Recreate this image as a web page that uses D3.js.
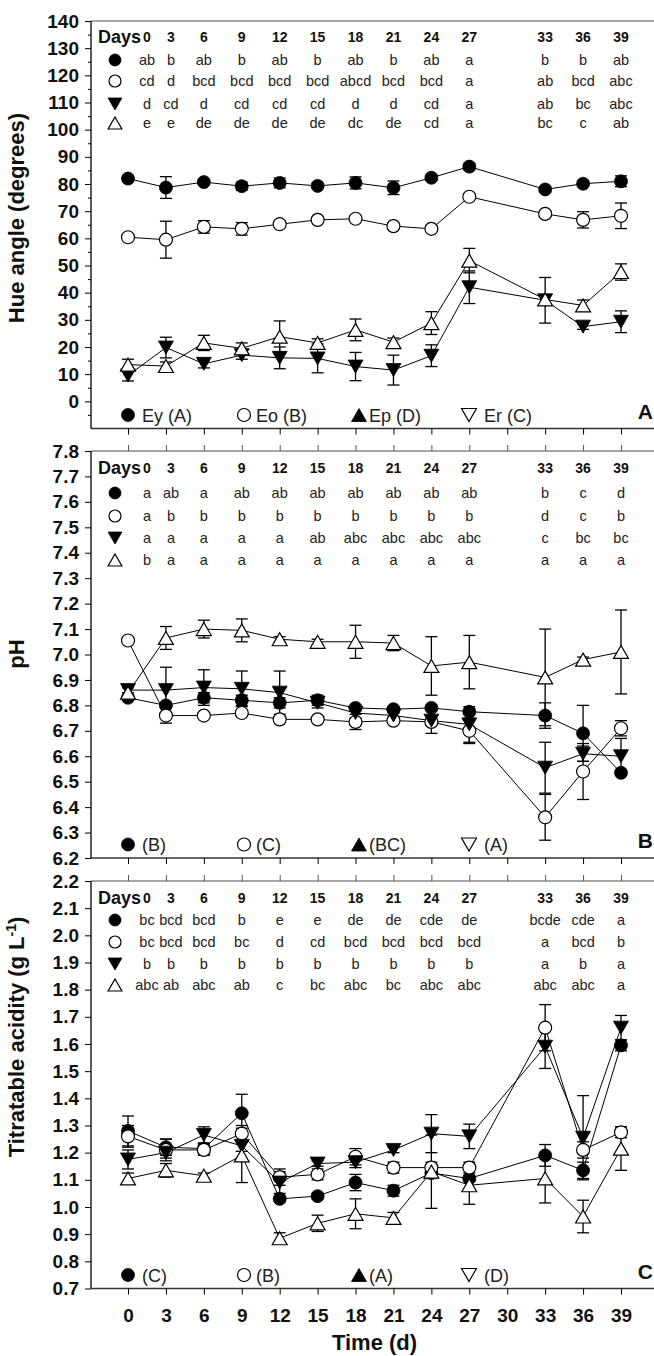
<!DOCTYPE html>
<html>
<head>
<meta charset="utf-8">
<script src="https://cdn.jsdelivr.net/npm/d3@7"></script>
<style>
  body { margin: 0; background: #fff; }
  svg { display: block; font-family: "Liberation Sans", Arial, sans-serif; }
</style>
</head>
<body>
<svg id="chart" width="654" height="1356"></svg>
<script>
// sampling days and x ticks
const days = [0, 3, 6, 9, 12, 15, 18, 21, 24, 27, 33, 36, 39];
const xTicks = [0, 3, 6, 9, 12, 15, 18, 21, 24, 27, 30, 33, 36, 39];

// Panel A - hue angle
const hueEy = [82.0, 78.7, 80.7, 79.2, 80.4, 79.3, 80.4, 78.6, 82.3, 86.4, 78.0, 80.1, 81.0];
const hueEyErr = [1.0, 4.0, 1.0, 1.5, 1.8, 1.0, 2.2, 2.5, 1.0, 1.2, 1.0, 1.0, 2.0];
const hueEo = [60.4, 59.5, 64.2, 63.5, 65.2, 66.8, 67.2, 64.5, 63.5, 75.3, 69.0, 66.8, 68.3];
const hueEoErr = [1.0, 6.8, 2.3, 2.3, 1.2, 1.0, 1.0, 1.0, 1.0, 1.0, 1.0, 3.0, 4.7];
const hueEp = [9.5, 19.8, 13.8, 17.0, 16.0, 15.8, 12.8, 11.5, 16.8, 42.0, 37.2, 27.5, 29.3];
const hueEpErr = [2.0, 3.8, 1.5, 1.5, 4.0, 5.3, 5.2, 5.5, 4.0, 6.0, 8.4, 1.0, 4.0];
const hueEr = [13.5, 13.0, 21.5, 19.5, 23.8, 21.5, 26.3, 21.8, 28.8, 51.8, 37.5, 35.3, 47.6];
const hueErErr = [2.0, 1.5, 2.8, 2.0, 5.8, 1.5, 4.0, 1.5, 4.2, 4.5, 1.5, 2.0, 3.0];
const hueLegend = ["Ey (A)", "Eo (B)", "Ep (D)", "Er (C)"];
const hueLetters = [
  ["ab", "b", "ab", "b", "ab", "b", "ab", "b", "ab", "a", "b", "b", "ab"],
  ["cd", "d", "bcd", "bcd", "bcd", "bcd", "abcd", "bcd", "bcd", "a", "ab", "bcd", "abc"],
  ["d", "cd", "d", "cd", "cd", "cd", "d", "d", "cd", "a", "ab", "bc", "abc"],
  ["e", "e", "de", "de", "de", "de", "dc", "de", "cd", "a", "bc", "c", "ab"]
];

// Panel B - pH
const phB = [6.83, 6.80, 6.83, 6.82, 6.81, 6.82, 6.79, 6.785, 6.79, 6.775, 6.76, 6.69, 6.535];
const phBErr = [0.01, 0.01, 0.02, 0.02, 0.02, 0.02, 0.01, 0.01, 0.01, 0.01, 0.05, 0.11, 0.01];
const phC = [7.055, 6.76, 6.76, 6.77, 6.745, 6.745, 6.735, 6.74, 6.735, 6.70, 6.36, 6.54, 6.71];
const phCErr = [0.01, 0.03, 0.01, 0.01, 0.01, 0.01, 0.03, 0.01, 0.01, 0.05, 0.09, 0.11, 0.03];
const phBC = [6.86, 6.86, 6.87, 6.865, 6.85, 6.81, 6.77, 6.76, 6.74, 6.725, 6.555, 6.61, 6.60];
const phBCErr = [0.01, 0.09, 0.07, 0.07, 0.085, 0.02, 0.02, 0.01, 0.05, 0.07, 0.10, 0.03, 0.07];
const phA = [6.85, 7.065, 7.10, 7.095, 7.06, 7.05, 7.05, 7.045, 6.955, 6.97, 6.91, 6.98, 7.01];
const phAErr = [0.02, 0.045, 0.035, 0.045, 0.01, 0.01, 0.065, 0.03, 0.115, 0.105, 0.19, 0.01, 0.165];
const phLegend = ["(B)", "(C)", "(BC)", "(A)"];
const phLetters = [
  ["a", "ab", "a", "ab", "ab", "ab", "ab", "ab", "ab", "ab", "b", "c", "d"],
  ["a", "b", "b", "b", "b", "b", "b", "b", "b", "b", "d", "c", "b"],
  ["a", "a", "a", "a", "a", "ab", "abc", "abc", "abc", "abc", "c", "bc", "bc"],
  ["b", "a", "a", "a", "a", "a", "a", "a", "a", "a", "a", "a", "a"]
];

// Panel C - titratable acidity
const taC = [1.28, 1.22, 1.215, 1.345, 1.03, 1.04, 1.09, 1.06, 1.125, 1.105, 1.19, 1.135, 1.595];
const taCErr = [0.055, 0.03, 0.02, 0.07, 0.01, 0.01, 0.03, 0.02, 0.02, 0.01, 0.04, 0.03, 0.02];
const taB = [1.26, 1.21, 1.21, 1.27, 1.11, 1.12, 1.185, 1.145, 1.145, 1.145, 1.66, 1.21, 1.275];
const taBErr = [0.04, 0.04, 0.02, 0.03, 0.03, 0.02, 0.03, 0.02, 0.02, 0.02, 0.085, 0.03, 0.02];
const taA = [1.175, 1.20, 1.265, 1.225, 1.09, 1.16, 1.165, 1.21, 1.27, 1.26, 1.59, 1.255, 1.66];
const taAErr = [0.035, 0.02, 0.03, 0.02, 0.04, 0.01, 0.02, 0.01, 0.07, 0.045, 0.08, 0.155, 0.045];
const taD = [1.105, 1.135, 1.115, 1.19, 0.885, 0.94, 0.975, 0.96, 1.13, 1.08, 1.105, 0.965, 1.215];
const taDErr = [0.02, 0.025, 0.01, 0.1, 0.02, 0.03, 0.055, 0.02, 0.135, 0.07, 0.09, 0.06, 0.08];
const taLegend = ["(C)", "(B)", "(A)", "(D)"];
const taLetters = [
  ["bc", "bcd", "bcd", "b", "e", "e", "de", "de", "cde", "de", "bcde", "cde", "a"],
  ["bc", "bcd", "bcd", "bc", "d", "cd", "bcd", "bcd", "bcd", "bcd", "a", "bcd", "b"],
  ["b", "b", "b", "b", "b", "b", "b", "b", "b", "b", "a", "b", "a"],
  ["abc", "ab", "abc", "ab", "c", "bc", "abc", "bc", "abc", "abc", "abc", "abc", "a"]
];

const svg = d3.select("#chart");
svg.append("rect").attr("width", 654).attr("height", 1356).attr("fill", "#fff");

const x = d3.scaleLinear().domain([0, 39]).range([128, 621]);
const left = 91, right = 654;

// shapes used in plot, table and legend
const plotShapes = ["fcircle", "ocircle", "fdown", "oup"];
const legendShapes = ["fcircle", "ocircle", "fup", "odown"];

function drawMarker(g, shape, cx, cy, r) {
  const filled = shape[0] === "f";
  let el;
  if (shape.endsWith("circle")) {
    el = g.append("circle").attr("cx", cx).attr("cy", cy).attr("r", r);
  } else {
    const w = r * 2.3, h = r * 2;
    const s = shape.endsWith("down") ? -1 : 1;
    el = g.append("path")
      .attr("transform", `translate(${cx},${cy})`)
      .attr("d", `M0,${-s * h / 2}L${w / 2},${s * h / 2}L${-w / 2},${s * h / 2}Z`);
  }
  el.attr("fill", filled ? "#000" : "#fff")
    .attr("stroke", "#000")
    .attr("stroke-width", filled ? 0.8 : 1.2);
}

const panels = [
  {
    letter: "A", top: 21, bottom: 428.5, domain: [-10, 140],
    major: d3.range(0, 141, 10), minor: d3.range(-5, 140, 10), fmt: d3.format("d"),
    title: "Hue angle (degrees)", titleY: 218,
    series: [[hueEy, hueEyErr], [hueEo, hueEoErr], [hueEp, hueEpErr], [hueEr, hueErErr]],
    letters: hueLetters, legend: hueLegend, rows: [16, 39, 60, 83, 102], topTicks: false, xLabels: false
  },
  {
    letter: "B", top: 451, bottom: 858, domain: [6.2, 7.8],
    major: d3.range(62, 79, 1).map(v => v / 10), minor: [], fmt: d3.format(".1f"),
    title: "pH", titleY: 654,
    series: [[phB, phBErr], [phC, phCErr], [phBC, phBCErr], [phA, phAErr]],
    letters: phLetters, legend: phLegend, rows: [17, 42, 65, 87, 109], topTicks: true, xLabels: false
  },
  {
    letter: "C", top: 881, bottom: 1288.5, domain: [0.7, 2.2],
    major: d3.range(7, 23, 1).map(v => v / 10), minor: [], fmt: d3.format(".1f"),
    title: "Titratable acidity (g L", titleY: 1037,
    series: [[taC, taCErr], [taB, taBErr], [taA, taAErr], [taD, taDErr]],
    letters: taLetters, legend: taLegend, rows: [17, 39, 61, 83, 104], topTicks: true, xLabels: true
  }
];

panels.forEach(p => {
  const y = d3.scaleLinear().domain(p.domain).range([p.bottom, p.top]);
  const g = svg.append("g");

  // frame: grey top line, dark left and bottom axes
  g.append("line").attr("x1", left).attr("x2", right).attr("y1", p.top).attr("y2", p.top)
    .attr("stroke", "#888").attr("stroke-width", 1.5);
  g.append("line").attr("x1", left).attr("x2", right).attr("y1", p.bottom).attr("y2", p.bottom)
    .attr("stroke", "#333").attr("stroke-width", 1.5);
  g.append("line").attr("x1", left).attr("x2", left).attr("y1", p.top).attr("y2", p.bottom)
    .attr("stroke", "#222").attr("stroke-width", 1.5);

  // y axis
  const yAxis = g.append("g").attr("transform", `translate(${left},0)`)
    .call(d3.axisLeft(y).tickValues(p.major).tickFormat(p.fmt).tickSize(6).tickPadding(6).tickSizeOuter(0));
  yAxis.select(".domain").remove();
  yAxis.selectAll("text").attr("font-size", 19).attr("font-weight", "bold").attr("fill", "#111")
    .attr("font-family", "Liberation Sans, Arial, sans-serif");
  if (p.minor.length) {
    const m = g.append("g").attr("transform", `translate(${left},0)`)
      .call(d3.axisLeft(y).tickValues(p.minor).tickFormat("").tickSize(3).tickSizeOuter(0));
    m.select(".domain").remove();
  }

  // x ticks (bottom, and top for B and C)
  const xAxis = g.append("g").attr("transform", `translate(0,${p.bottom})`)
    .call(d3.axisBottom(x).tickValues(xTicks).tickSize(6).tickPadding(14).tickSizeOuter(0)
      .tickFormat(p.xLabels ? d3.format("d") : ""));
  xAxis.select(".domain").remove();
  xAxis.selectAll("text").attr("font-size", 19).attr("font-weight", "bold").attr("fill", "#111")
    .attr("font-family", "Liberation Sans, Arial, sans-serif");
  if (p.topTicks) {
    const t = g.append("g").attr("transform", `translate(0,${p.top})`)
      .call(d3.axisTop(x).tickValues(xTicks).tickSize(6).tickFormat("").tickSizeOuter(0));
    t.select(".domain").remove();
    t.selectAll("line").attr("stroke", "#555");
  }

  // y title
  const title = g.append("text")
    .attr("transform", `translate(24,${p.titleY}) rotate(-90)`)
    .attr("text-anchor", "middle").attr("font-size", 22).attr("font-weight", "bold").attr("fill", "#111");
  if (p.letter === "C") {
    title.append("tspan").text(p.title);
    title.append("tspan").attr("dy", -8).attr("font-size", 14).text("-1");
    title.append("tspan").attr("dy", 8).text(")");
  } else {
    title.text(p.title);
  }

  // connecting lines
  const line = d3.line().x((d, i) => x(days[i])).y(d => y(d));
  p.series.forEach(([vals]) => {
    g.append("path").datum(vals).attr("d", line)
      .attr("fill", "none").attr("stroke", "#000").attr("stroke-width", 1);
  });

  // error bars
  p.series.forEach(([vals, errs]) => {
    vals.forEach((v, i) => {
      const cx = x(days[i]), y1 = y(v + errs[i]), y2 = y(v - errs[i]);
      g.append("line").attr("x1", cx).attr("x2", cx).attr("y1", y1).attr("y2", y2)
        .attr("stroke", "#000").attr("stroke-width", 1.3);
      [y1, y2].forEach(yy => g.append("line").attr("x1", cx - 6).attr("x2", cx + 6)
        .attr("y1", yy).attr("y2", yy).attr("stroke", "#000").attr("stroke-width", 1.3));
    });
  });

  // markers
  p.series.forEach(([vals], si) => {
    vals.forEach((v, i) => drawMarker(g, plotShapes[si], x(days[i]), y(v), 6.5));
  });

  // letters table (first two columns sit right of their days to clear "Days")
  const colX = i => (i === 0 ? 147 : i === 1 ? 171 : x(days[i]));
  const t0 = p.top;
  g.append("text").attr("x", 98).attr("y", t0 + p.rows[0] + 6)
    .attr("font-size", 18).attr("font-weight", "bold").attr("fill", "#111").text("Days");
  days.forEach((d, i) => {
    g.append("text").attr("x", colX(i)).attr("y", t0 + p.rows[0] + 5)
      .attr("text-anchor", "middle").attr("font-size", 14).attr("font-weight", "bold")
      .attr("fill", "#111").text(d);
  });
  p.letters.forEach((row, ri) => {
    const cy = t0 + p.rows[ri + 1];
    drawMarker(g, plotShapes[ri], 115, cy, 6);
    row.forEach((s, i) => {
      g.append("text").attr("x", colX(i)).attr("y", cy + 5)
        .attr("text-anchor", "middle").attr("font-size", 14.5).attr("fill", "#222").text(s);
    });
  });

  // legend along the bottom
  const ly = p.bottom - 13.5;
  const legX = [128, 244, 359, 469];
  const legTextX = [142, 256, 369, 484];
  p.legend.forEach((lab, i) => {
    drawMarker(g, legendShapes[i], legX[i], ly, 6.5);
    g.append("text").attr("x", legTextX[i]).attr("y", ly + 6.5)
      .attr("font-size", 18).attr("fill", "#222").text(lab);
  });

  // panel letter
  g.append("text").attr("x", 653).attr("y", p.bottom - 10)
    .attr("text-anchor", "end").attr("font-size", 21).attr("font-weight", "bold").attr("fill", "#111")
    .text(p.letter);
});

// x axis title
svg.append("text").attr("x", x(19.5)).attr("y", 1350)
  .attr("text-anchor", "middle").attr("font-size", 22).attr("font-weight", "bold").attr("fill", "#111")
  .text("Time (d)");
</script>
</body>
</html>
